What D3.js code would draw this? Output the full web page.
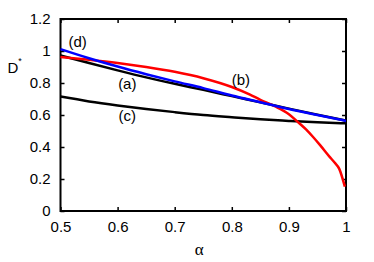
<!DOCTYPE html>
<html>
<head>
<meta charset="utf-8">
<script src="https://cdn.jsdelivr.net/npm/d3@7"></script>
<style>
  body { margin: 0; background: #fff; }
  svg text { font-family: "Liberation Sans", Arial, sans-serif; }
</style>
</head>
<body>
<div id="chart"></div>
<script>
// values
const alphaA = [0.5, 0.55, 0.6, 0.65, 0.7, 0.75, 0.8, 0.85, 0.9, 0.95, 1];
const curveA = [0.972, 0.925, 0.879, 0.835, 0.795, 0.757, 0.718, 0.679, 0.64, 0.602, 0.565];

const alphaB = [0.5, 0.55, 0.6, 0.65, 0.7, 0.75, 0.8, 0.831, 0.85, 0.875, 0.9, 0.914, 0.93, 0.942, 0.955, 0.971, 0.98, 0.988, 0.998];
const curveB = [0.962, 0.945, 0.925, 0.9, 0.87, 0.83, 0.775, 0.729, 0.695, 0.655, 0.605, 0.562, 0.51, 0.464, 0.41, 0.34, 0.303, 0.265, 0.152];

const alphaC = [0.5, 0.55, 0.6, 0.65, 0.7, 0.75, 0.8, 0.85, 0.9, 0.95, 1];
const curveC = [0.715, 0.685, 0.66, 0.638, 0.618, 0.6, 0.586, 0.573, 0.563, 0.554, 0.548];

const alphaD = [0.5, 0.55, 0.6, 0.65, 0.7, 0.75, 0.8, 0.85, 0.9, 0.95, 1];
const curveD = [1.012, 0.955, 0.903, 0.855, 0.81, 0.768, 0.722, 0.68, 0.638, 0.6, 0.563];

const xTicks = [0.5, 0.6, 0.7, 0.8, 0.9, 1];
const yTicks = [0, 0.2, 0.4, 0.6, 0.8, 1, 1.2];

const labels = [
  { text: "(a)", a: 0.617, v: 0.787 },
  { text: "(b)", a: 0.816, v: 0.81 },
  { text: "(c)", a: 0.617, v: 0.587 },
  { text: "(d)", a: 0.53, v: 1.05 }
];

const margin = { top: 19, right: 28, bottom: 51, left: 60.5 },
    width = 374 - margin.left - margin.right,
    height = 262 - margin.top - margin.bottom;

const svg = d3.select("#chart")
    .append("svg")
    .attr("width", 374)
    .attr("height", 262)
    .append("g")
    .attr("transform", `translate(${margin.left}, ${margin.top})`);

const x = d3.scaleLinear().domain([0.5, 1]).range([0, width]);
const y = d3.scaleLinear().domain([0, 1.2]).range([height, 0]);

const fmt = d => d === 0 || d === 1 ? String(d) : d3.format(".1f")(d);

// axes, ticks pointing inward
svg.append("g")
    .attr("transform", `translate(0, ${height})`)
    .call(d3.axisBottom(x).tickValues(xTicks).tickSizeInner(-4).tickSizeOuter(0).tickPadding(10).tickFormat(fmt));
svg.append("g")
    .call(d3.axisTop(x).tickValues(xTicks).tickSizeInner(-4).tickSizeOuter(0).tickFormat(""));
svg.append("g")
    .call(d3.axisLeft(y).tickValues(yTicks).tickSizeInner(-4).tickSizeOuter(0).tickPadding(10).tickFormat(fmt));
svg.append("g")
    .attr("transform", `translate(${width}, 0)`)
    .call(d3.axisRight(y).tickValues(yTicks).tickSizeInner(-4).tickSizeOuter(0).tickFormat(""));

svg.selectAll(".domain").remove();
svg.selectAll(".tick line").attr("stroke", "#000").attr("stroke-width", 1.5);
svg.selectAll(".tick text")
    .style("font-size", "15px")
    .attr("fill", "#000");

// frame
svg.append("rect")
    .attr("x", 0).attr("y", 0)
    .attr("width", width).attr("height", height)
    .attr("fill", "none")
    .attr("stroke", "#000")
    .attr("stroke-width", 2);

const line = d3.line()
    .x(d => x(d[0]))
    .y(d => y(d[1]))
    .curve(d3.curveMonotoneX);

const series = [
  { a: alphaC, v: curveC, color: "#000" },
  { a: alphaA, v: curveA, color: "#000" },
  { a: alphaB, v: curveB, color: "#ff0000" },
  { a: alphaD, v: curveD, color: "#0000ff" }
];

series.forEach(s => {
  svg.append("path")
      .datum(d3.zip(s.a, s.v))
      .attr("fill", "none")
      .attr("stroke", s.color)
      .attr("stroke-width", 2.5)
      .attr("d", line);
});

svg.selectAll(".lbl")
    .data(labels)
    .join("text")
    .attr("x", d => x(d.a))
    .attr("y", d => y(d.v))
    .attr("text-anchor", "middle")
    .attr("dominant-baseline", "middle")
    .style("font-size", "15px")
    .text(d => d.text);

// axis titles
svg.append("text")
    .attr("x", width / 2 - 4)
    .attr("y", height + 44)
    .attr("text-anchor", "middle")
    .style("font-family", "'Liberation Serif', serif")
    .style("font-size", "17px")
    .text("α");

const yl = svg.append("text")
    .attr("x", -53)
    .attr("y", 54)
    .style("font-size", "15px");
yl.append("tspan").text("D");
yl.append("tspan").attr("dy", -9).style("font-size", "9px").text("*");
</script>
</body>
</html>
